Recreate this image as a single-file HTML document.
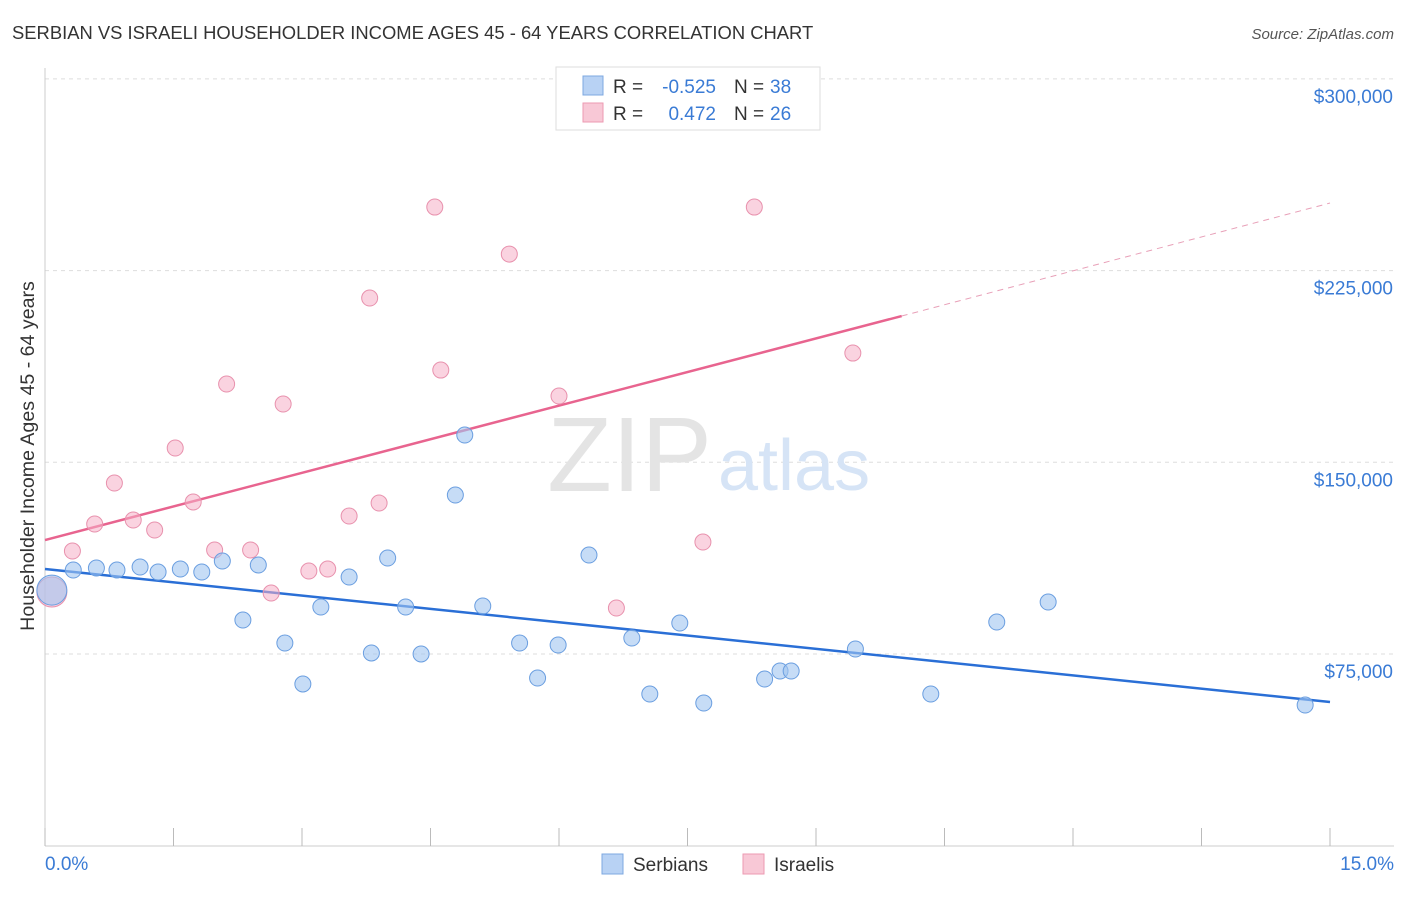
<!DOCTYPE html>
<html><head><meta charset="utf-8"><style>
body{margin:0;background:#fff;font-family:"Liberation Sans",sans-serif;}
svg text{font-family:"Liberation Sans",sans-serif;}
</style></head><body>
<svg id="chart" width="1406" height="892" viewBox="0 0 1406 892">
<text x="12" y="39" font-size="18.4" fill="#333">SERBIAN VS ISRAELI HOUSEHOLDER INCOME AGES 45 - 64 YEARS CORRELATION CHART</text>
<text x="1394" y="39" font-size="15" fill="#555" font-style="italic" text-anchor="end">Source: ZipAtlas.com</text>
<g id="grid"></g>
<text x="712" y="491" font-size="106" fill="#e4e4e4" font-family="Liberation Serif" text-anchor="end">ZIP</text>
<text x="718" y="490" font-size="72" fill="#d6e4f6">atlas</text>
<g id="axes"></g>
<text transform="translate(34,456) rotate(-90)" font-size="19.6" fill="#333" text-anchor="middle">Householder Income Ages 45 - 64 years</text>
<g id="lines"></g>
<g id="points"></g>
<g>
<rect x="556" y="67" width="264" height="63" fill="#fff" stroke="#ddd"/>
<rect x="583" y="76" width="20" height="19" fill="#b8d2f4" stroke="#7ea8e0"/>
<rect x="583" y="103" width="20" height="19" fill="#f8c8d6" stroke="#ec9ab2"/>
<text x="613" y="93" font-size="19" fill="#333">R =</text>
<text x="716" y="93" font-size="19" fill="#3a7bd5" text-anchor="end">-0.525</text>
<text x="734" y="93" font-size="19" fill="#333">N =</text>
<text x="770" y="93" font-size="19" fill="#3a7bd5">38</text>
<text x="613" y="120" font-size="19" fill="#333">R =</text>
<text x="716" y="120" font-size="19" fill="#3a7bd5" text-anchor="end">0.472</text>
<text x="734" y="120" font-size="19" fill="#333">N =</text>
<text x="770" y="120" font-size="19" fill="#3a7bd5">26</text>
</g>
<g>
<rect x="602" y="854" width="21" height="20" fill="#b8d2f4" stroke="#7ea8e0"/>
<text x="633" y="871" font-size="19" fill="#333">Serbians</text>
<rect x="743" y="854" width="21" height="20" fill="#f8c8d6" stroke="#ec9ab2"/>
<text x="774" y="871" font-size="19" fill="#333">Israelis</text>
</g>
</svg>
<script>
const serbX=[0.08,0.33,0.60,0.84,1.11,1.32,1.58,1.83,2.07,2.31,2.49,2.80,3.01,3.22,3.55,3.81,4.00,4.21,4.39,4.79,4.90,5.11,5.54,5.75,5.99,6.35,6.85,7.06,7.41,7.69,8.40,8.58,8.71,9.46,10.34,11.11,11.71,14.71];
const serbY=[100000,107850,108640,107850,109030,107070,108240,107070,111380,88290,109810,79300,63260,93380,105120,75390,112550,93380,75000,137190,160670,93770,79300,65600,78510,113720,81250,59340,87120,55820,65210,68340,68340,76950,59340,87510,95340,55040];
const isrX=[0.08,0.32,0.58,0.81,1.03,1.28,1.52,1.73,1.98,2.12,2.40,2.64,2.78,3.08,3.30,3.55,3.79,3.90,4.55,4.62,5.42,6.00,6.67,7.68,8.28,9.43];
const isrY=[99250,115290,125850,141890,127410,123500,155580,134460,115680,180620,115680,98860,172790,107460,108240,128980,214260,134060,249860,186090,231470,175920,92990,118810,249860,192740];
const serbTrendX=[0,15], serbTrendY=[108240,56220];
const isrTrendX=[0,10,15], isrTrendY=[119590,207220,251430];
const yTicks=[75000,150000,225000,300000];
const yTickLabels=["$75,000","$150,000","$225,000","$300,000"];
const xTicks=[0,1.5,3,4.5,6,7.5,9,10.5,12,13.5,15];
const NS="http://www.w3.org/2000/svg";
const sx=v=>45+v*1285/15, sy=v=>845.7-v*191.7/75000;
function mk(tag,attrs,parent){const e=document.createElementNS(NS,tag);for(const k in attrs)e.setAttribute(k,attrs[k]);document.getElementById(parent).appendChild(e);return e;}
yTicks.forEach((t,i)=>{
 const g=mk('line',{x1:45,x2:1394,y1:sy(t),y2:sy(t),stroke:'#ddd','stroke-dasharray':'4,4'},'grid');
 
 
 const l=mk('text',{x:1393,y:sy(t)+24,'font-size':19,fill:'#3a7bd5','text-anchor':'end'},'grid');
 l.textContent=yTickLabels[i];
 
 
});
mk('line',{x1:45,x2:45,y1:68,y2:846,stroke:'#ccc'},'axes');
mk('line',{x1:45,x2:1394,y1:846,y2:846,stroke:'#ccc'},'axes');
xTicks.forEach(t=>{const e=mk('line',{x1:sx(t),x2:sx(t),y1:828,y2:846,stroke:'#bbb'},'axes');
 
 });
const x0=mk('text',{x:45,y:870,'font-size':19,fill:'#3a7bd5'},'axes');x0.textContent='0.0%';


const x1=mk('text',{x:1394,y:870,'font-size':19,fill:'#3a7bd5','text-anchor':'end'},'axes');x1.textContent='15.0%';


const bl=mk('line',{x1:sx(serbTrendX[0]),y1:sy(serbTrendY[0]),x2:sx(serbTrendX[1]),y2:sy(serbTrendY[1]),stroke:'#2a6fd6','stroke-width':2.5},'lines');


const pl=mk('line',{x1:sx(isrTrendX[0]),y1:sy(isrTrendY[0]),x2:sx(isrTrendX[1]),y2:sy(isrTrendY[1]),stroke:'#e8648f','stroke-width':2.5},'lines');


const pd=mk('line',{x1:sx(isrTrendX[1]),y1:sy(isrTrendY[1]),x2:sx(isrTrendX[2]),y2:sy(isrTrendY[2]),stroke:'#e8a0b8','stroke-width':1,'stroke-dasharray':'6,5'},'lines');


isrX.forEach((x,i)=>{const c=mk('circle',{cx:sx(x),cy:sy(isrY[i]),r:i===0?15:8,fill:'rgba(245,175,198,0.55)',stroke:'#e891ad','stroke-width':1},'points');
 
 });
serbX.forEach((x,i)=>{const c=mk('circle',{cx:sx(x),cy:sy(serbY[i]),r:i===0?15:8,fill:'rgba(160,196,240,0.6)',stroke:'#6a9ee0','stroke-width':1},'points');
 
 });
</script>
</body></html>
